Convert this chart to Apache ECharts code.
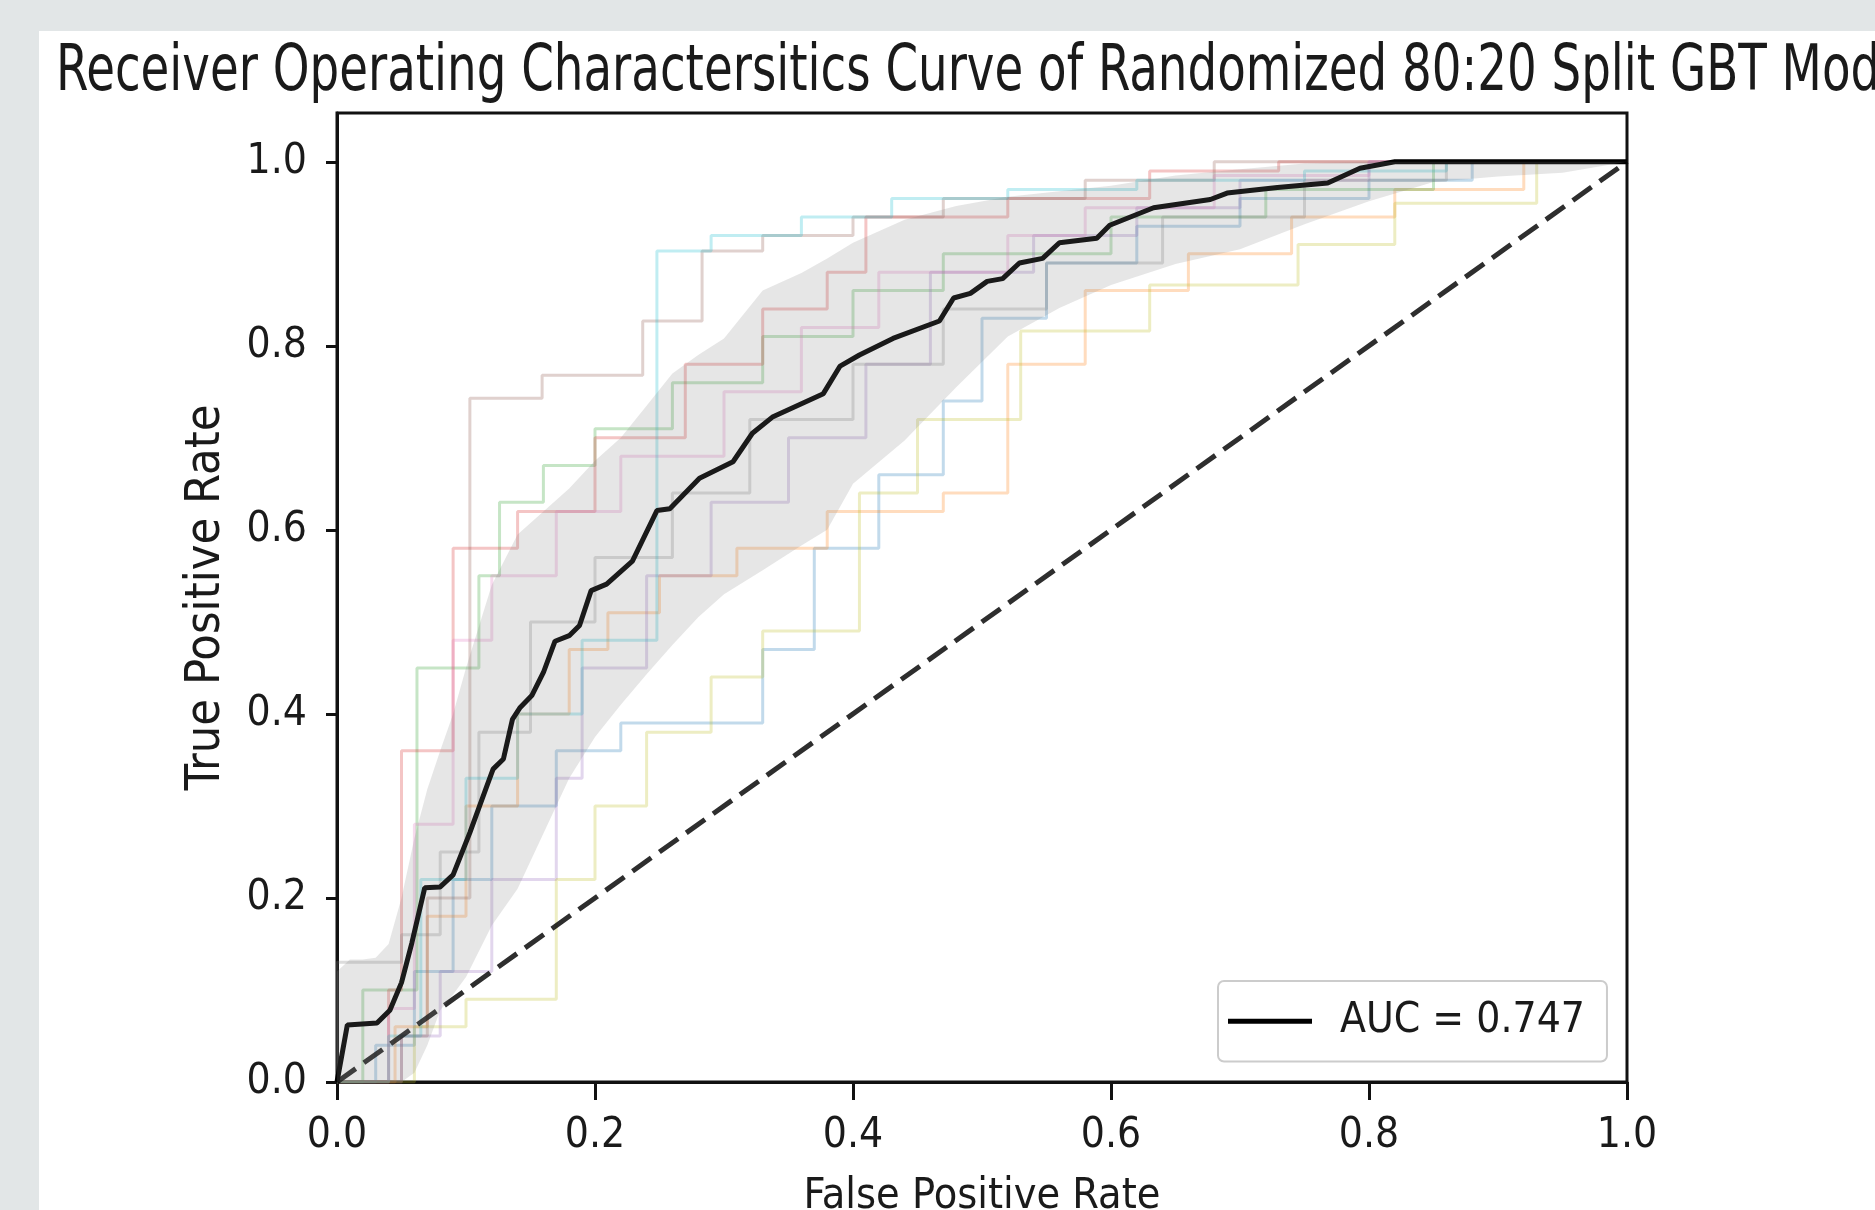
<!DOCTYPE html>
<html>
<head>
<meta charset="utf-8">
<script src="https://cdn.jsdelivr.net/npm/echarts@6/dist/echarts.min.js"></script>
<style>
html,body{margin:0;padding:0;background:#e2e6e7;}
#chart{width:1875px;height:1210px;}
</style>
</head>
<body>
<div id="chart"></div>
<script>
// ---------- texts ----------
const chartTitle = 'Receiver Operating Charactersitics Curve of Randomized 80:20 Split GBT Model';
const xAxisName = 'False Positive Rate';
const yAxisName = 'True Positive Rate';
const aucLabel = 'AUC = 0.747';

// ---------- ticks ----------
const xTicks = [0, 0.2, 0.4, 0.6, 0.8, 1.0];
const yTicks = [0, 0.2, 0.4, 0.6, 0.8, 1.0];

// ---------- mean ROC ----------
const meanFpr = [0, 0.008, 0.031, 0.041, 0.05, 0.058, 0.068, 0.08, 0.09, 0.103, 0.116, 0.121, 0.129, 0.136, 0.142, 0.151, 0.16, 0.169, 0.18, 0.188, 0.197, 0.209, 0.229, 0.248, 0.258, 0.281, 0.307, 0.322, 0.338, 0.377, 0.39, 0.405, 0.431, 0.467, 0.478, 0.491, 0.504, 0.516, 0.529, 0.547, 0.56, 0.589, 0.599, 0.633, 0.677, 0.69, 0.729, 0.768, 0.793, 0.82, 1.0];
const meanTpr = [0, 0.062, 0.064, 0.078, 0.108, 0.151, 0.211, 0.212, 0.225, 0.271, 0.321, 0.34, 0.351, 0.394, 0.407, 0.42, 0.445, 0.479, 0.485, 0.496, 0.534, 0.541, 0.566, 0.621, 0.623, 0.656, 0.674, 0.705, 0.723, 0.748, 0.778, 0.79, 0.808, 0.827, 0.852, 0.857, 0.87, 0.873, 0.89, 0.895, 0.912, 0.917, 0.931, 0.95, 0.959, 0.966, 0.972, 0.977, 0.993, 1.0, 1.0];

// ---------- +/- 1 std band ----------
const bandFpr   = [0, 0.01, 0.02, 0.03, 0.04, 0.05, 0.06, 0.07, 0.08, 0.09, 0.10, 0.12, 0.14, 0.16, 0.18, 0.20, 0.22, 0.24, 0.26, 0.28, 0.30, 0.33, 0.36, 0.38, 0.40, 0.44, 0.48, 0.52, 0.56, 0.60, 0.65, 0.70, 0.75, 0.80, 0.85, 0.90, 0.95, 1.0];
const bandUpper = [0.12, 0.133, 0.133, 0.135, 0.15, 0.20, 0.265, 0.318, 0.36, 0.40, 0.45, 0.54, 0.595, 0.62, 0.645, 0.675, 0.70, 0.735, 0.77, 0.79, 0.808, 0.86, 0.879, 0.895, 0.912, 0.937, 0.952, 0.962, 0.968, 0.974, 0.985, 0.992, 0.998, 1.0, 1.0, 1.0, 1.0, 1.0];
const bandLower = [0, 0, 0, 0, 0, 0, 0.01, 0.04, 0.078, 0.095, 0.114, 0.17, 0.21, 0.27, 0.33, 0.375, 0.41, 0.443, 0.475, 0.505, 0.53, 0.556, 0.583, 0.60, 0.65, 0.697, 0.755, 0.81, 0.841, 0.866, 0.889, 0.905, 0.932, 0.957, 0.978, 0.984, 0.988, 1.0];

// ---------- individual folds (x where TPR steps up, TPR after the step) ----------
const fold1Fpr  = [0.03, 0.06, 0.09, 0.12, 0.17, 0.22, 0.33, 0.37, 0.42, 0.47, 0.50, 0.55, 0.62, 0.70, 0.80, 0.88];
const fold1Tpr  = [0.04, 0.12, 0.22, 0.30, 0.36, 0.39, 0.47, 0.58, 0.66, 0.74, 0.83, 0.89, 0.93, 0.96, 0.98, 1.0];
const fold2Fpr  = [0.045, 0.07, 0.10, 0.14, 0.18, 0.21, 0.25, 0.31, 0.38, 0.47, 0.52, 0.58, 0.66, 0.74, 0.82, 0.92];
const fold2Tpr  = [0.06, 0.18, 0.30, 0.40, 0.47, 0.51, 0.55, 0.58, 0.62, 0.64, 0.78, 0.86, 0.90, 0.94, 0.97, 1.0];
const fold3Fpr  = [0.02, 0.062, 0.11, 0.126, 0.16, 0.20, 0.26, 0.33, 0.40, 0.47, 0.60, 0.72, 0.85];
const fold3Tpr  = [0.10, 0.45, 0.55, 0.63, 0.67, 0.71, 0.76, 0.81, 0.86, 0.90, 0.94, 0.97, 1.0];
const fold4Fpr  = [0.04, 0.05, 0.09, 0.14, 0.20, 0.27, 0.33, 0.38, 0.41, 0.52, 0.63, 0.73];
const fold4Tpr  = [0.10, 0.36, 0.58, 0.62, 0.70, 0.78, 0.84, 0.88, 0.94, 0.96, 0.99, 1.0];
const fold5Fpr  = [0.05, 0.08, 0.12, 0.17, 0.19, 0.24, 0.29, 0.35, 0.41, 0.46, 0.54, 0.62, 0.70, 0.80];
const fold5Tpr  = [0.05, 0.12, 0.22, 0.33, 0.45, 0.55, 0.63, 0.70, 0.78, 0.88, 0.92, 0.95, 0.98, 1.0];
const fold6Fpr  = [0.05, 0.07, 0.103, 0.159, 0.237, 0.283, 0.33, 0.40, 0.47, 0.58, 0.68];
const fold6Tpr  = [0.05, 0.20, 0.743, 0.768, 0.827, 0.903, 0.92, 0.94, 0.96, 0.98, 1.0];
const fold7Fpr  = [0.04, 0.06, 0.09, 0.12, 0.17, 0.22, 0.30, 0.36, 0.42, 0.52, 0.58, 0.68, 0.80];
const fold7Tpr  = [0.08, 0.28, 0.48, 0.55, 0.62, 0.68, 0.75, 0.82, 0.88, 0.92, 0.95, 0.985, 1.0];
const fold8Fpr  = [0.0, 0.05, 0.08, 0.11, 0.15, 0.20, 0.26, 0.32, 0.40, 0.47, 0.55, 0.64, 0.75, 0.86];
const fold8Tpr  = [0.13, 0.16, 0.25, 0.38, 0.50, 0.57, 0.64, 0.72, 0.78, 0.84, 0.89, 0.94, 0.98, 1.0];
const fold9Fpr  = [0.06, 0.10, 0.17, 0.20, 0.24, 0.29, 0.33, 0.405, 0.45, 0.53, 0.63, 0.745, 0.82, 0.93];
const fold9Tpr  = [0.06, 0.09, 0.22, 0.30, 0.38, 0.44, 0.49, 0.64, 0.72, 0.816, 0.866, 0.91, 0.955, 1.0];
const fold10Fpr = [0.04, 0.065, 0.10, 0.14, 0.19, 0.248, 0.29, 0.36, 0.43, 0.52, 0.62, 0.75, 0.86];
const fold10Tpr = [0.05, 0.22, 0.33, 0.40, 0.48, 0.903, 0.92, 0.94, 0.96, 0.97, 0.98, 0.99, 1.0];

const foldColors = ['#1f77b4', '#ff7f0e', '#2ca02c', '#d62728', '#9467bd', '#8c564b', '#e377c2', '#7f7f7f', '#bcbd22', '#17becf'];

// ---------- fonts: pick an installed condensed face and fit sizes to the reference text widths ----------
const mctx = document.createElement('canvas').getContext('2d');
function hasFont(f) {
  const s = 'Receiver AUC = 0.747';
  mctx.font = '50px monospace';
  const a = mctx.measureText(s).width;
  mctx.font = '50px "' + f + '", monospace';
  return mctx.measureText(s).width !== a;
}
const FAMILY = ['DejaVu Sans Condensed', 'Liberation Sans Narrow', 'DejaVu Sans'].find(hasFont) || 'DejaVu Sans';
function fitSize(text, targetWidth) {
  mctx.font = '100px "' + FAMILY + '"';
  return 100 * targetWidth / mctx.measureText(text).width;
}
const tickSize  = fitSize(aucLabel, 245);
const titleSize = fitSize('Receiver Operating Charactersitics Curve of Randomized 80:20 Split GBT ', 1726);
const xNameSize = fitSize(xAxisName, 357);
const yNameSize = fitSize(yAxisName, 386);
const TXT = '#1a1a1a';

function stairs(xs, ys) {
  const pts = [[0, 0]];
  let prev = 0;
  for (let i = 0; i < xs.length; i++) {
    pts.push([xs[i], prev]);
    pts.push([xs[i], ys[i]]);
    prev = ys[i];
  }
  pts.push([1, prev]);
  return pts;
}

const folds = [
  [fold1Fpr, fold1Tpr], [fold2Fpr, fold2Tpr], [fold3Fpr, fold3Tpr], [fold4Fpr, fold4Tpr], [fold5Fpr, fold5Tpr],
  [fold6Fpr, fold6Tpr], [fold7Fpr, fold7Tpr], [fold8Fpr, fold8Tpr], [fold9Fpr, fold9Tpr], [fold10Fpr, fold10Tpr]
];

const series = [];
folds.forEach((f, i) => {
  series.push({
    name: 'fold' + (i + 1),
    type: 'line',
    data: stairs(f[0], f[1]),
    showSymbol: false,
    symbol: 'none',
    silent: true,
    lineStyle: { color: foldColors[i], width: 3, opacity: 0.27 },
    z: 2
  });
});
series.push({
  name: 'chance',
  type: 'line',
  data: [[0, 0], [1, 1]],
  symbol: 'none',
  silent: true,
  lineStyle: { color: 'rgba(0,0,0,0.82)', width: 5, type: [23, 10] },
  z: 3
});
series.push({
  name: aucLabel,
  type: 'line',
  data: meanFpr.map((x, i) => [x, meanTpr[i]]),
  symbol: 'none',
  silent: true,
  color: '#000000',
  lineStyle: { color: '#000000', width: 5 },
  z: 4
});
series.push({
  name: 'std',
  type: 'custom',
  data: [[0, 0]],
  silent: true,
  clip: true,
  z: 5,
  renderItem: function (params, api) {
    const pts = [];
    for (let i = 0; i < bandFpr.length; i++) pts.push(api.coord([bandFpr[i], bandUpper[i]]));
    for (let i = bandFpr.length - 1; i >= 0; i--) pts.push(api.coord([bandFpr[i], bandLower[i]]));
    return { type: 'polygon', shape: { points: pts }, style: { fill: 'rgba(128,128,128,0.2)' } };
  }
});

const chart = echarts.init(document.getElementById('chart'), null, { renderer: 'canvas', width: 1875, height: 1210 });
chart.setOption({
  animation: false,
  backgroundColor: '#e2e6e7',
  textStyle: { fontFamily: FAMILY },
  graphic: [
    { type: 'rect', z: -100, silent: true, shape: { x: 39, y: 31, width: 1875 - 39, height: 1210 - 31 }, style: { fill: '#ffffff' } },
    { type: 'text', z: 100, silent: true, x: 56, y: 73, scaleX: 1, scaleY: 1.25,
      style: { text: chartTitle, fontFamily: FAMILY, fontSize: titleSize, fill: TXT, verticalAlign: 'middle', align: 'left' } }
  ],
  grid: { left: 337, top: 113, width: 1290, height: 969, show: true, borderColor: '#111111', borderWidth: 3,
    backgroundColor: 'transparent', containLabel: false, outerBoundsMode: 'none' },
  legend: {
    data: [aucLabel],
    left: 1218, top: 981,
    orient: 'vertical',
    icon: 'rect',
    itemWidth: 84, itemHeight: 5,
    padding: [17, 22, 17, 10],
    backgroundColor: 'rgba(255,255,255,0.8)',
    borderColor: '#cccccc', borderWidth: 2, borderRadius: 6,
    selectedMode: false,
    textStyle: { fontFamily: FAMILY, fontSize: tickSize, color: TXT, padding: [0, 0, 0, 23], lineHeight: tickSize * 1.1 }
  },
  xAxis: {
    type: 'value', min: 0, max: 1, interval: 0.2,
    name: xAxisName, nameLocation: 'middle', nameGap: 93,
    nameTextStyle: { fontFamily: FAMILY, fontSize: xNameSize, color: TXT },
    axisLine: { show: true, onZero: false, lineStyle: { color: '#111111', width: 3 } },
    axisTick: { show: true, length: 18, lineStyle: { color: '#111111', width: 3 }, customValues: xTicks },
    axisLabel: { show: true, margin: 33, fontFamily: FAMILY, fontSize: tickSize, color: TXT, customValues: xTicks,
      formatter: v => Number(v).toFixed(1) },
    splitLine: { show: false }
  },
  yAxis: {
    type: 'value', min: 0, max: 1.053,
    name: yAxisName, nameLocation: 'middle', nameGap: 107, nameRotate: 90,
    nameTextStyle: { fontFamily: FAMILY, fontSize: yNameSize, color: TXT },
    axisLine: { show: true, onZero: false, lineStyle: { color: '#111111', width: 3 } },
    axisTick: { show: true, length: 11, lineStyle: { color: '#111111', width: 3 }, customValues: yTicks },
    axisLabel: { show: true, margin: 30, fontFamily: FAMILY, fontSize: tickSize, color: TXT, customValues: yTicks,
      formatter: v => (v > 1.001 ? '' : Number(v).toFixed(1)) },
    splitLine: { show: false }
  },
  series: series
});
</script>
</body>
</html>
